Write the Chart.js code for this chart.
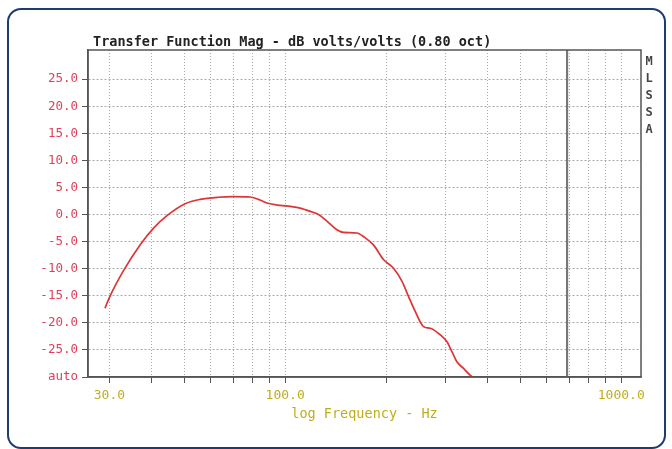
<!DOCTYPE html>
<html lang="en">
<head>
    <meta charset="UTF-8">
    <title>Transfer Function Mag</title>
    <script src="https://cdn.jsdelivr.net/npm/chart.js"></script>
    <style>
        html, body { margin: 0; padding: 0; background: #fff; }
        #wrap { position: relative; width: 672px; height: 449px; overflow: hidden; }
        #frame {
            position: absolute; left: 7px; top: 8px; width: 659px; height: 441px;
            border: 2px solid #1f3c6e; border-radius: 14px; box-sizing: border-box;
        }
        canvas { position: absolute; left: 0; top: 0; }
    </style>
</head>
<body>
    <div id="wrap">
        <div id="frame"></div>
        <canvas id="tfChart" width="672" height="449"></canvas>
    </div>

    <script>
        // data (Hz, dB)
        const freqHz = [29.1, 30.1, 33.0, 37.0, 40.6, 44.5, 50.4, 55.8, 63.3, 70.0, 78.7, 83.3, 88.2, 96.6,
                        103.5, 110.8, 118.7, 125.6, 133.1, 142.5, 149.1, 163.5, 173.0, 183.1, 196.1, 210.1,
                        222.5, 232.8, 243.8, 258.0, 270.2, 289.3, 302.9, 313.4, 324.3, 339.4, 359.5, 395.0];
        const magDb = [-17.3, -15.1, -10.4, -5.6, -2.5, -0.2, 2.0, 2.8, 3.2, 3.3, 3.25, 2.8, 2.15, 1.7,
                       1.5, 1.2, 0.6, 0.0, -1.2, -2.8, -3.3, -3.4, -4.3, -5.6, -8.3, -9.9,
                       -12.3, -15.1, -17.9, -20.7, -21.0, -22.2, -23.5, -25.3, -27.2, -28.4, -29.9, -30.3];
        const cursorHz = 690;

        const xTicks = [30, 40, 50, 60, 70, 80, 90, 100, 200, 300, 400, 500, 600, 700, 800, 900, 1000];
        const xLabelled = [30, 100, 1000];
        const yTicks = [-30, -25, -20, -15, -10, -5, 0, 5, 10, 15, 20, 25];

        const titleText = 'Transfer Function Mag - dB volts/volts (0.80 oct)';
        const sideText = ['M', 'L', 'S', 'S', 'A'];
        const monoFont = '"DejaVu Sans Mono", "Liberation Mono", monospace';

        const decorPlugin = {
            id: 'decor',
            afterDraw(chart) {
                const { ctx, chartArea: a } = chart;
                ctx.save();
                ctx.strokeStyle = '#555';
                ctx.lineWidth = 1.5;
                ctx.strokeRect(a.left, a.top, a.right - a.left, a.bottom - a.top);

                ctx.fillStyle = '#222';
                ctx.font = 'bold 13.5px ' + monoFont;
                ctx.textBaseline = 'middle';
                ctx.fillText(titleText, 93, 42);

                ctx.fillStyle = '#444';
                ctx.font = 'bold 12px ' + monoFont;
                ctx.textAlign = 'center';
                sideText.forEach((c, i) => ctx.fillText(c, 649, 62 + i * 16.9));
                ctx.restore();
            }
        };

        const ctx = document.getElementById('tfChart').getContext('2d');
        new Chart(ctx, {
            type: 'line',
            data: {
                datasets: [{
                    label: 'Magnitude',
                    data: freqHz.map((f, i) => ({ x: f, y: magDb[i] })),
                    borderColor: '#dd3535',
                    borderWidth: 1.7,
                    pointRadius: 0,
                    cubicInterpolationMode: 'monotone',
                    fill: false,
                    order: 0
                }, {
                    label: 'Cursor',
                    data: [{ x: cursorHz, y: -40 }, { x: cursorHz, y: 40 }],
                    borderColor: '#777',
                    borderWidth: 2.2,
                    pointRadius: 0,
                    fill: false,
                    order: 1
                }]
            },
            plugins: [decorPlugin],
            options: {
                responsive: false,
                animation: false,
                layout: { padding: { left: 0, right: 31, top: 50, bottom: 22 } },
                plugins: { legend: { display: false }, tooltip: { enabled: false } },
                scales: {
                    x: {
                        type: 'logarithmic',
                        min: 25.9,
                        max: 1145,
                        afterBuildTicks: axis => { axis.ticks = xTicks.map(v => ({ value: v })); },
                        afterFit: axis => { axis.height = 50; },
                        ticks: {
                            autoSkip: false,
                            maxRotation: 0,
                            padding: 5,
                            color: '#bfae1c',
                            font: { family: monoFont, size: 13 },
                            callback: v => xLabelled.includes(v) ? v.toFixed(1) : ''
                        },
                        grid: { color: '#a8a8a8', tickColor: '#555', tickLength: 6, lineWidth: 1 },
                        border: { color: '#555', width: 1.5, dash: [1, 2] },
                        title: {
                            display: true,
                            text: 'log Frequency - Hz',
                            color: '#bfae1c',
                            font: { family: monoFont, size: 13.5 },
                            padding: { top: 2 }
                        }
                    },
                    y: {
                        type: 'linear',
                        min: -30,
                        max: 30.4,
                        afterBuildTicks: axis => { axis.ticks = yTicks.map(v => ({ value: v })); },
                        afterFit: axis => { axis.width = 88; },
                        ticks: {
                            padding: 4,
                            color: '#e0405a',
                            font: { family: monoFont, size: 12.5 },
                            callback: v => v === -30 ? 'auto' : v.toFixed(1)
                        },
                        grid: { color: '#a8a8a8', tickColor: '#555', tickLength: 6, lineWidth: 1 },
                        border: { color: '#555', width: 1.5, dash: [2, 2] }
                    }
                }
            }
        });
    </script>
</body>
</html>
